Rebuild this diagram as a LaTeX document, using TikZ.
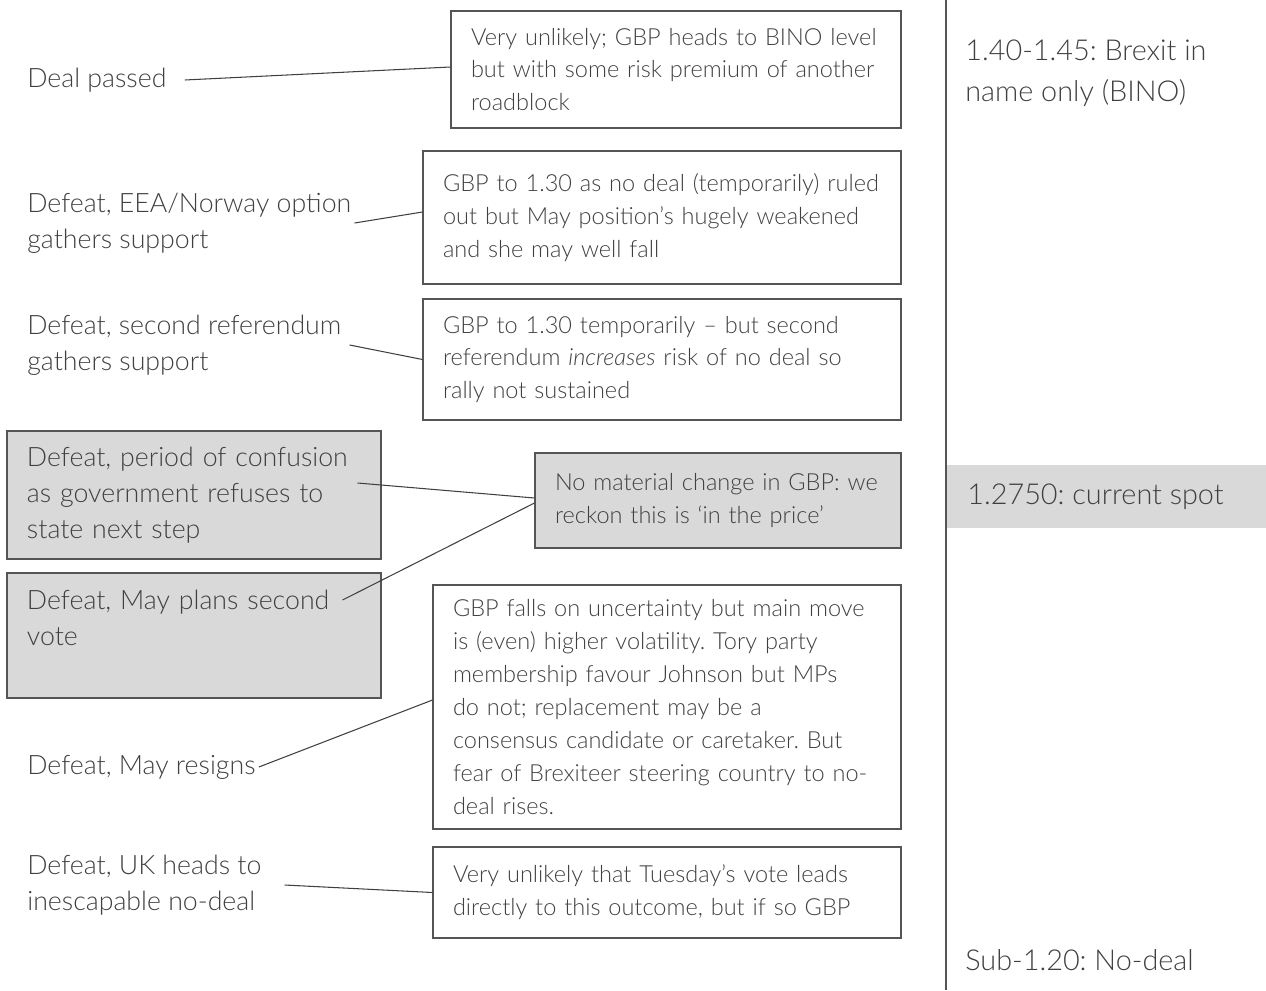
\documentclass[tikz,border=0pt]{standalone}
\usepackage{fontspec}
\setmainfont{Lato}[UprightFont={* Light},ItalicFont={* Light Italic}]
\usetikzlibrary{positioning}
\frenchspacing
\definecolor{ink}{HTML}{404040}
\definecolor{edge}{HTML}{555555}
\definecolor{panel}{HTML}{D9D9D9}
\newcommand\pxu{0.02cm}
\tikzset{
  card/.style={draw=edge, line width=0.6pt, text=ink, align=left, inner xsep=20*\pxu, inner ysep=0pt,
    font=\fontsize{13.4}{18.7}\selectfont, execute at begin node={\hyphenpenalty=10000\relax}},
  graycard/.style={card, fill=panel},
  choice/.style={text=ink, align=left, anchor=west, inner sep=3*\pxu, font=\fontsize{15.2}{20.4}\selectfont},
  level/.style={text=ink, align=left, anchor=west, inner sep=0pt, font=\fontsize{16.4}{23.2}\selectfont},
  link/.style={draw=ink, line width=0.6pt}
}
\begin{document}
\begin{tikzpicture}[x=\pxu, y=-\pxu]
  \useasboundingbox (0,0) rectangle (1266,990);
  % level scale on the right
  \fill[panel] (946,465) rectangle (1266,528);
  \draw[edge, line width=0.6pt] (946,0) -- (946,990);
  \node[level] (bino) at (965,73) {1.40-1.45: Brexit in\\name only (BINO)};
  \node[level] (spot) at (967,497) {1.2750: current spot};
  \node[level] (sub) at (965,960) {Sub-1.20: No-deal};
  % outcomes of the vote
  \node[choice] (deal) at (24,80) {Deal passed};
  \node[choice] (norway) at (24,223) {Defeat, EEA/Norway option\\gathers support};
  \node[choice] (ref) at (24,345) {Defeat, second referendum\\gathers support};
  \node[graycard, text width=334*\pxu, minimum height=128*\pxu, font=\fontsize{15.2}{20.4}\selectfont] (a) at (194,495)
    {Defeat, period of confusion\\as government refuses to\\state next step};
  \node[graycard, text width=334*\pxu, minimum height=125*\pxu, font=\fontsize{15.2}{20.4}\selectfont] (b) at (194,635.5)
    {Defeat, May plans second\\vote\\\mbox{}};
  \node[choice] (resign) at (24,767) {Defeat, May resigns};
  \node[choice] (nodeal) at (24,885) {Defeat, UK heads to\\inescapable no-deal};
  % GBP views
  \node[card, text width=410*\pxu, minimum height=117*\pxu] (v1) at (676,69.5)
    {Very unlikely; GBP heads to BINO level\\but with some risk premium of another\\roadblock};
  \node[card, text width=438*\pxu, minimum height=133*\pxu] (v2) at (662,217.5)
    {GBP to 1.30 as no deal (temporarily) ruled\\out but May position’s hugely weakened\\and she may well fall};
  \node[card, text width=438*\pxu, minimum height=121*\pxu] (v3) at (662,359.5)
    {GBP to 1.30 temporarily – but second\\referendum \textit{increases} risk of no deal so\\rally not sustained};
  \node[graycard, text width=326*\pxu, minimum height=95*\pxu] (v4) at (718,500.5)
    {No material change in GBP: we\\reckon this is ‘in the price’};
  \node[card, text width=428*\pxu, minimum height=244*\pxu] (v5) at (667,707)
    {GBP falls on uncertainty but main move\\is (even) higher volatility. Tory party\\membership favour Johnson but MPs\\do not; replacement may be a\\consensus candidate or caretaker. But\\fear of Brexiteer steering country to no-\\deal rises.};
  \node[card, text width=428*\pxu, minimum height=91*\pxu] (v6) at (667,892.5)
    {Very unlikely that Tuesday’s vote leads\\directly to this outcome, but if so GBP};
  % connectors
  \draw[link] ([xshift=0.3cm]deal.east) -- ([yshift=0.05cm]v1.west);
  \draw[link] (norway.east) -- ([yshift=0.11cm]v2.west);
  \draw[link] ([xshift=0.1cm]ref.east) -- (v3.west);
  \draw[link] ([xshift=-0.48cm,yshift=0.24cm]a.east) -- ([yshift=0.05cm]v4.west);
  \draw[link] ([xshift=-0.78cm,yshift=0.71cm]b.east) -- ([yshift=-0.05cm]v4.west);
  \draw[link] (resign.east) -- ([yshift=0.14cm]v5.west);
  \draw[link] ([xshift=0.4cm]nodeal.east) -- (v6.west);
\end{tikzpicture}
\end{document}
